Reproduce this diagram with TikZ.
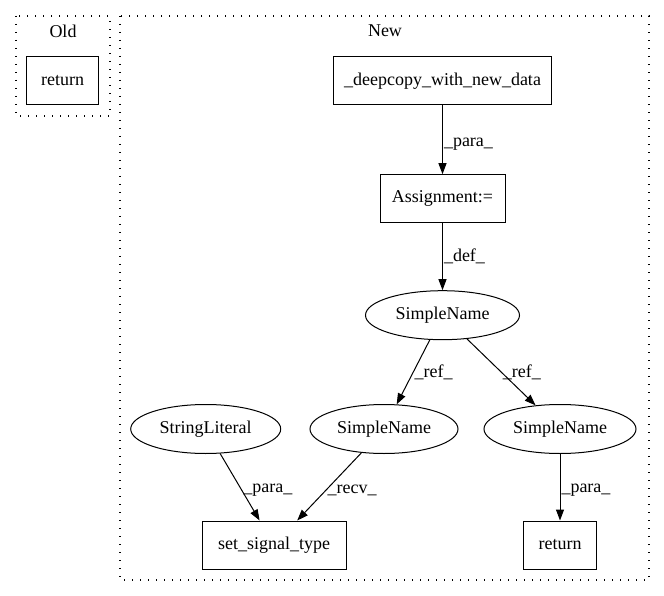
\documentclass[tikz,border=0pt]{standalone}
\usepackage{fontspec}
\setmainfont{Liberation Serif}
\usetikzlibrary{positioning,shapes.geometric,arrows.meta}

\begin{document}
\begin{tikzpicture}[
      x=1pt, y=-1pt,
      every node/.style={align=center, font=\fontsize{18}{22}\selectfont},
      box/.style={draw, line width=1pt, minimum height=48pt, inner sep=2pt},
      oval/.style={draw, ellipse, line width=1pt, minimum height=49pt, inner sep=1pt},
      cluster/.style={draw, line width=1.1pt, dash pattern=on 1.3pt off 6.7pt},
      arrow/.style={->, >={Triangle[length=11pt, width=8pt]}, line width=1pt},
      elabel/.style={right, inner sep=1pt}
    ]
      \useasboundingbox (0,0) rectangle (664,596);
      % Clusters
      \draw[cluster] (16,16) rectangle (110,116);
      \node (oldlabel) at (63,31) {Old};
      \draw[cluster] (120,16) rectangle (649,580);
      \node (newlabel) at (385,31) {New};
      % Old side
      \node[box, minimum width=72pt] (oldreturn) at (62.7,81) {return};
      % New side
      \node[box, minimum width=218pt] (deepcopy) at (442.5,80.7) {\_deepcopy\_with\_new\_data};
      \node[box, minimum width=125pt, below=69pt of deepcopy] (assign) {Assignment:=};
      \node[oval, minimum width=154pt, below=67pt of assign] (name0) {SimpleName};
      \node[oval, minimum width=150pt] (strlit) at (205.7,429) {StringLiteral};
      \node[oval, minimum width=148pt] (name1) at (384,429) {SimpleName};
      \node[oval, minimum width=152pt] (name2) at (560,429) {SimpleName};
      \node[box, minimum width=144pt] (setsig) at (274,545) {set\_signal\_type};
      \node[box, minimum width=73pt] (newreturn) at (560,545) {return};
      % Arrows
      \draw[arrow] (deepcopy) -- node[elabel, pos=0.56] {\_para\_} (assign);
      \draw[arrow] (assign) -- node[elabel] {\_def\_} (name0);
      \draw[arrow] (name0) -- node[elabel] {\_ref\_} (name1);
      \draw[arrow] (name0) -- node[elabel] {\_ref\_} (name2);
      \draw[arrow] (strlit) -- node[elabel, pos=0.55] {\_para\_} (setsig);
      \draw[arrow] (name1) -- node[elabel, pos=0.55] {\_recv\_} (setsig);
      \draw[arrow] (name2) -- node[elabel, pos=0.55] {\_para\_} (newreturn);
    \end{tikzpicture}
\end{document}
